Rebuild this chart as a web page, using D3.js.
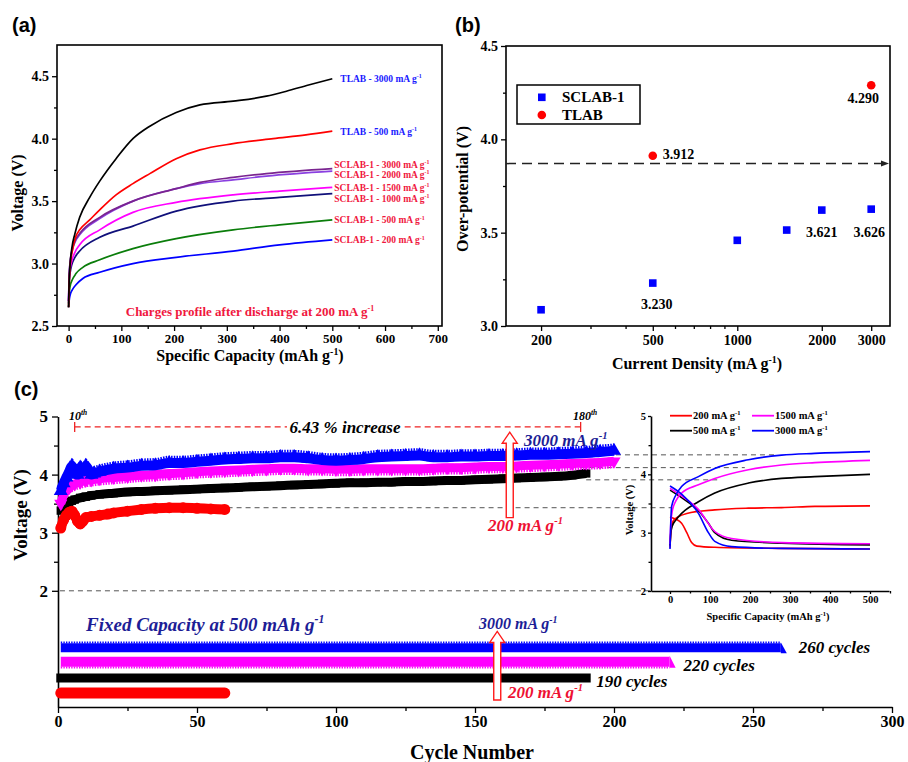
<!DOCTYPE html>
<html>
<head>
<meta charset="utf-8">
<script src="https://cdn.jsdelivr.net/npm/d3@7"></script>
<style>
  body { margin: 0; background: #fff; }
  svg { display: block; }
</style>
</head>
<body>
<svg id="fig" width="908" height="762"></svg>
<script>
// ---------------- (a) charge profiles: [capacity mAh g-1, voltage V]
const profTLAB3000 = [[0,2.65],[1,2.85],[3,3.0],[6,3.12],[12,3.24],[21,3.37],[40,3.53],[59,3.66],[90,3.84],[122,4.0],[154,4.1],[204,4.21],[249,4.27],[312,4.3],[375,4.34],[413,4.38],[455,4.43],[500,4.48]];
const profTLAB500  = [[0,2.65],[1,2.82],[3,2.98],[7,3.1],[14,3.22],[21,3.27],[40,3.35],[59,3.43],[90,3.55],[122,3.64],[154,3.72],[204,3.84],[249,3.91],[312,3.96],[388,4.0],[450,4.03],[500,4.06]];
const profS3000 = [[0,2.7],[1,2.9],[3,3.02],[6,3.1],[12,3.18],[21,3.24],[59,3.37],[122,3.5],[204,3.6],[249,3.65],[312,3.69],[375,3.72],[500,3.76]];
const profS2000 = [[0,2.7],[1,2.9],[3,3.01],[6,3.09],[12,3.17],[21,3.23],[59,3.36],[122,3.5],[204,3.6],[249,3.64],[312,3.67],[375,3.7],[500,3.74]];
const profS1500 = [[0,2.7],[1,2.86],[3,2.96],[6,3.02],[12,3.09],[21,3.15],[59,3.27],[122,3.41],[204,3.49],[312,3.55],[400,3.58],[500,3.61]];
const profS1000 = [[0,2.68],[1,2.84],[3,2.93],[6,2.99],[12,3.05],[21,3.1],[59,3.21],[122,3.3],[204,3.42],[312,3.5],[400,3.53],[500,3.56]];
const profS500  = [[0,2.65],[1,2.75],[3,2.82],[7,2.87],[14,2.92],[27,2.97],[59,3.03],[122,3.12],[204,3.2],[312,3.27],[400,3.31],[500,3.35]];
const profS200  = [[0,2.65],[1,2.7],[3,2.75],[7,2.79],[14,2.83],[27,2.88],[59,2.93],[122,3.0],[204,3.05],[312,3.1],[400,3.15],[500,3.19]];
const profData   = [profTLAB3000, profTLAB500, profS3000, profS2000, profS1500, profS1000, profS500, profS200];
const profLabels = ["TLAB - 3000 mA g", "TLAB - 500 mA g", "SCLAB-1 - 3000 mA g", "SCLAB-1 - 2000 mA g",
                    "SCLAB-1 - 1500 mA g", "SCLAB-1 - 1000 mA g", "SCLAB-1 - 500 mA g", "SCLAB-1 - 200 mA g"];
const capTicksA  = [0, 100, 200, 300, 400, 500, 600, 700];
const voltTicksA = [2.5, 3.0, 3.5, 4.0, 4.5];

// ---------------- (b) over-potential vs current density
const densSCLAB = [200, 500, 1000, 1500, 2000, 3000];
const overSCLAB = [3.087, 3.230, 3.459, 3.514, 3.621, 3.626];
const densTLAB  = [500, 3000];
const overTLAB  = [3.912, 4.290];
const refOverpotential = 3.87;
const densTicksB  = [200, 500, 1000, 2000, 3000];
const densMinorB  = [300, 400, 600, 700, 800, 900];
const overTicksB  = [3.0, 3.5, 4.0, 4.5];

// ---------------- (c) cycling at fixed capacity 500 mAh g-1 (end-of-charge voltage)
const cyc3000  = [1,2,3,4,5,6,7,8,9,10,11,12,13,15,20,25,30,35,40,45,50,55,60,65,70,75,80,85,90,95,100,105,110,115,120,125,130,135,140,145,150,155,160,165,170,175,180,185,190,195,200];
const volt3000 = [3.72,3.85,3.95,4.05,4.15,4.05,4.0,4.12,4.05,4.15,4.08,4.0,4.02,4.05,4.1,4.12,4.15,4.16,4.2,4.2,4.22,4.24,4.26,4.27,4.28,4.28,4.3,4.3,4.28,4.25,4.24,4.25,4.27,4.3,4.31,4.32,4.33,4.3,4.3,4.31,4.31,4.32,4.32,4.33,4.34,4.34,4.35,4.36,4.37,4.39,4.41];
const cyc1500  = [1,2,3,4,5,6,8,10,12,15,20,25,30,35,40,45,50,55,60,65,70,75,80,85,90,95,100,105,110,115,120,125,130,135,140,145,150,155,160,165,170,175,180,185,190,195,200];
const volt1500 = [3.5,3.65,3.72,3.78,3.82,3.84,3.87,3.9,3.91,3.93,3.95,3.97,3.99,4.0,4.02,4.03,4.05,4.06,4.07,4.08,4.09,4.1,4.11,4.11,4.1,4.1,4.09,4.09,4.1,4.1,4.1,4.1,4.1,4.11,4.12,4.12,4.13,4.14,4.14,4.15,4.16,4.17,4.18,4.19,4.2,4.21,4.23];
const cyc500   = [1,2,3,4,5,6,8,10,12,15,20,25,30,35,40,45,50,55,60,65,70,75,80,85,90,95,100,105,110,115,120,125,130,135,140,145,150,155,160,165,170,175,180,185,190];
const volt500  = [3.38,3.45,3.5,3.53,3.55,3.57,3.6,3.62,3.64,3.66,3.68,3.7,3.71,3.72,3.73,3.74,3.75,3.76,3.77,3.78,3.79,3.8,3.81,3.82,3.83,3.84,3.85,3.86,3.86,3.87,3.87,3.88,3.88,3.89,3.9,3.9,3.91,3.92,3.93,3.94,3.95,3.96,3.97,3.99,4.02];
const cyc200   = [1,2,3,4,5,6,7,8,9,10,12,15,18,20,25,30,35,40,45,50,55,60];
const volt200  = [3.08,3.22,3.3,3.35,3.37,3.3,3.2,3.15,3.2,3.26,3.28,3.3,3.32,3.34,3.37,3.4,3.42,3.43,3.43,3.42,3.41,3.4];
// cycle-life rows: total cycles and row level on the voltage axis
const lifeTotals = [260, 220, 190, 60];
const lifeLevels = [1.02, 0.78, 0.5, 0.24];
const cycleTicksC = [0, 50, 100, 150, 200, 250, 300];
const voltTicksC  = [2, 3, 4, 5];
// guide levels drawn from the cycling curves into the inset
const guideLevels   = [4.34, 4.12, 3.91, 3.43, 2.0];
const guideFromCyc  = [191, 178, 190, 61, 0.7];
const guideToCap    = [262, 187, 120, 5, -48];

// ---------------- (c) inset: charge / discharge profiles [capacity, voltage]
const insCharge200 = [[0,2.74],[2,3.0],[4,3.12],[8,3.2],[20,3.27],[42,3.33],[112,3.39],[196,3.42],[279,3.43],[362,3.45],[500,3.46]];
const insDisch200  = [[0,3.27],[15,3.23],[29,3.16],[42,3.0],[54,2.83],[67,2.77],[112,2.75],[279,2.73],[500,2.72]];
const insCharge500 = [[0,2.78],[2,2.98],[6,3.12],[15,3.22],[29,3.33],[71,3.53],[112,3.68],[196,3.85],[279,3.93],[362,3.96],[500,4.0]];
const insDisch500  = [[0,3.73],[29,3.6],[71,3.38],[96,3.16],[112,3.0],[154,2.87],[279,2.82],[500,2.79]];
const insCharge1500 = [[0,2.8],[2,3.15],[6,3.38],[15,3.55],[29,3.68],[71,3.82],[112,3.93],[196,4.08],[279,4.16],[362,4.2],[500,4.24]];
const insDisch1500  = [[0,3.76],[29,3.63],[71,3.4],[112,3.02],[154,2.9],[279,2.83],[500,2.81]];
const insCharge3000 = [[0,2.72],[2,3.2],[4,3.45],[15,3.65],[29,3.79],[71,3.96],[112,4.1],[196,4.25],[279,4.33],[362,4.36],[500,4.39]];
const insDisch3000  = [[0,3.8],[29,3.66],[71,3.33],[96,3.0],[112,2.85],[154,2.76],[279,2.73],[500,2.72]];
const insRates = ["200", "500", "1500", "3000"];
const capTicksI  = [0, 100, 200, 300, 400, 500];
const voltTicksI = [2, 3, 4, 5];

// ---------------------------------------------------------------------------
const SERIF = '"Liberation Serif","Times New Roman",serif';
const SANS  = '"Liberation Sans",Arial,sans-serif';
const svg = d3.select("#fig");

// text with optional superscript parts (prefixed by "^")
function rich(g, x, y, parts, o = {}) {
  const size = o.size || 14;
  const t = g.append("text").attr("x", x).attr("y", y)
    .attr("font-family", o.family || SERIF).attr("font-weight", o.weight || "bold")
    .attr("font-size", size).attr("fill", o.fill || "#000")
    .attr("text-anchor", o.anchor || "start");
  if (o.italic) t.attr("font-style", "italic");
  if (o.rotate) t.attr("transform", `rotate(${o.rotate},${x},${y})`);
  let raised = false;
  parts.forEach(p => {
    const sup = p.startsWith("^");
    const s = t.append("tspan").text(sup ? p.slice(1) : p);
    if (sup) { s.attr("font-size", size * 0.62).attr("dy", -size * 0.4); raised = true; }
    else if (raised) { s.attr("dy", size * 0.4); raised = false; }
  });
  return t;
}

function styleAxis(g, size, keepDomain) {
  g.attr("font-family", null).attr("font-size", null);
  g.selectAll("text").attr("font-family", SERIF).attr("font-weight", "bold")
    .attr("font-size", size).attr("fill", "#000");
  g.selectAll(".tick line").attr("stroke", "#000").attr("stroke-width", 1.3);
  if (keepDomain) g.select(".domain").attr("stroke", "#000").attr("stroke-width", 1.6);
  else g.select(".domain").remove();
  return g;
}

// ============================ panel (a) ============================
const gA = svg.append("g");
const xA = d3.scaleLinear().domain([-22, 708]).range([57, 442]);
const yA = d3.scaleLinear().domain([2.5, 4.75]).range([326, 45]);

gA.append("g").attr("transform", "translate(0,326)")
  .call(d3.axisBottom(xA).tickValues(capTicksA).tickSize(5).tickPadding(3).tickFormat(d3.format("d")))
  .call(g => styleAxis(g, 13));
gA.append("g").attr("transform", "translate(0,326)")
  .call(d3.axisBottom(xA).tickValues(capTicksA.slice(0, -1).map(d => d + 50)).tickSize(3).tickFormat(""))
  .call(g => styleAxis(g, 13));
gA.append("g").attr("transform", "translate(57,0)")
  .call(d3.axisLeft(yA).tickValues(voltTicksA).tickSize(5).tickPadding(3).tickFormat(d3.format(".1f")))
  .call(g => styleAxis(g, 14));
gA.append("g").attr("transform", "translate(57,0)")
  .call(d3.axisLeft(yA).tickValues(voltTicksA.slice(0, -1).map(d => d + 0.25)).tickSize(3).tickFormat(""))
  .call(g => styleAxis(g, 14));
gA.append("rect").attr("x", xA.range()[0]).attr("y", yA.range()[1])
  .attr("width", xA.range()[1] - xA.range()[0]).attr("height", yA.range()[0] - yA.range()[1])
  .attr("fill", "none").attr("stroke", "#000").attr("stroke-width", 1.6);

const profColors = ["#000000", "#ff0000", "#7a2490", "#8a3fe0", "#ff00ff", "#10107a", "#0a7d0a", "#0000ff"];
const lineA = d3.line().x(d => xA(d[0])).y(d => yA(d[1])).curve(d3.curveMonotoneX);
profData.slice().reverse().forEach((p, k) => {
  const i = profData.length - 1 - k;
  gA.append("path").attr("d", lineA(p)).attr("fill", "none")
    .attr("stroke", profColors[i]).attr("stroke-width", 1.7);
});
const labelShift = [0, 0, -4, 3, 0, 5, 0, 0];
profData.forEach((p, i) => {
  const end = p[p.length - 1];
  const tlab = i < 2;
  rich(gA, xA(end[0]) + (tlab ? 8 : 2), yA(end[1]) + labelShift[i] + 3.5, [profLabels[i], "^-1"],
    { size: 9.5, fill: tlab ? "#1a1aff" : "#f0173e" });
});
rich(gA, 250, 316, ["Charges profile after discharge at 200 mA g", "^-1"],
  { size: 13, anchor: "middle", fill: "#f0173e" });
rich(gA, 23, 193, ["Voltage (V)"], { size: 16, anchor: "middle", rotate: -90 });
rich(gA, 250, 361, ["Specific Capacity (mAh g", "^-1", ")"], { size: 16, anchor: "middle" });
rich(gA, 12, 32, ["(a)"], { size: 20, family: SANS });

// ============================ panel (b) ============================
const gB = svg.append("g");
const xB = d3.scaleLog().domain([150, 3500]).range([506, 890]);
const yB = d3.scaleLinear().domain([3.0, 4.5]).range([326, 46]);

gB.append("g").attr("transform", "translate(0,326)")
  .call(d3.axisBottom(xB).tickValues(densTicksB).tickSize(5).tickPadding(4).tickFormat(d3.format("d")))
  .call(g => styleAxis(g, 14));
gB.append("g").attr("transform", "translate(0,326)")
  .call(d3.axisBottom(xB).tickValues(densMinorB).tickSize(3).tickFormat(""))
  .call(g => styleAxis(g, 14));
gB.append("g").attr("transform", "translate(506,0)")
  .call(d3.axisLeft(yB).tickValues(overTicksB).tickSize(5).tickPadding(3).tickFormat(d3.format(".1f")))
  .call(g => styleAxis(g, 14));
gB.append("g").attr("transform", "translate(506,0)")
  .call(d3.axisLeft(yB).tickValues(overTicksB.slice(0, -1).map(d => d + 0.25)).tickSize(3).tickFormat(""))
  .call(g => styleAxis(g, 14));
gB.append("rect").attr("x", xB.range()[0]).attr("y", yB.range()[1])
  .attr("width", xB.range()[1] - xB.range()[0]).attr("height", yB.range()[0] - yB.range()[1])
  .attr("fill", "none").attr("stroke", "#000").attr("stroke-width", 1.6);

// reference level with arrow
const yRef = yB(refOverpotential);
gB.append("line").attr("x1", xB.range()[0]).attr("x2", xB.range()[1] - 7)
  .attr("y1", yRef).attr("y2", yRef).attr("stroke", "#222").attr("stroke-width", 1.5)
  .attr("stroke-dasharray", "10,6");
gB.append("path").attr("d", `M${xB.range()[1] - 9},${yRef - 3}L${xB.range()[1] - 1},${yRef}L${xB.range()[1] - 9},${yRef + 3}Z`)
  .attr("fill", "#222");

gB.selectAll("rect.sq").data(densSCLAB).join("rect").attr("class", "sq")
  .attr("x", d => xB(d) - 3.8).attr("y", (d, i) => yB(overSCLAB[i]) - 3.8)
  .attr("width", 7.6).attr("height", 7.6).attr("fill", "#0000ff");
gB.selectAll("circle.tl").data(densTLAB).join("circle").attr("class", "tl")
  .attr("cx", d => xB(d)).attr("cy", (d, i) => yB(overTLAB[i])).attr("r", 4.3).attr("fill", "#ff0000");

const fmt3 = d3.format(".3f");
// value labels
rich(gB, xB(500) + 4, yB(overSCLAB[1]) + 26, [fmt3(overSCLAB[1])], { size: 14, anchor: "middle" });
rich(gB, xB(500) + 10, yB(overTLAB[0]) + 3, [fmt3(overTLAB[0])], { size: 14 });
rich(gB, xB(3000) - 8, yB(overTLAB[1]) + 18, [fmt3(overTLAB[1])], { size: 14, anchor: "middle" });
rich(gB, xB(2000), yB(overSCLAB[4]) + 27, [fmt3(overSCLAB[4])], { size: 14, anchor: "middle" });
rich(gB, xB(3000) - 2, yB(overSCLAB[5]) + 28, [fmt3(overSCLAB[5])], { size: 14, anchor: "middle" });

// legend
gB.append("rect").attr("x", 517).attr("y", 85).attr("width", 123).attr("height", 39)
  .attr("fill", "#fff").attr("stroke", "#000").attr("stroke-width", 1.5);
gB.append("rect").attr("x", 538).attr("y", 93.5).attr("width", 7.6).attr("height", 7.6).attr("fill", "#0000ff");
gB.append("circle").attr("cx", 541.8).attr("cy", 115).attr("r", 4.3).attr("fill", "#ff0000");
rich(gB, 562, 102, ["SCLAB-1"], { size: 15 });
rich(gB, 562, 120, ["TLAB"], { size: 15 });

rich(gB, 468, 189, ["Over-potential (V)"], { size: 16, anchor: "middle", rotate: -90 });
rich(gB, 697, 369, ["Current Density (mA g", "^-1", ")"], { size: 16, anchor: "middle" });
rich(gB, 455, 32, ["(b)"], { size: 20, family: SANS });

// ============================ panel (c) ============================
const gC = svg.append("g");
const xC = d3.scaleLinear().domain([0, 300]).range([58, 892]);
const yC = d3.scaleLinear().domain([0, 5]).range([707, 416.5]);
const xI = d3.scaleLinear().domain([-47.5, 547.5]).range([651, 889]);
const yI = d3.scaleLinear().domain([2, 5]).range([591, 416]);

// dashed guide levels, running from the cycling data into the inset
guideLevels.forEach((v, i) => {
  gC.append("line").attr("x1", xC(guideFromCyc[i])).attr("x2", xI(guideToCap[i]))
    .attr("y1", yC(v)).attr("y2", yC(v))
    .attr("stroke", "#555").attr("stroke-width", 1).attr("stroke-dasharray", "5,4");
});

gC.append("g").attr("transform", "translate(0,707)")
  .call(d3.axisBottom(xC).tickValues(cycleTicksC).tickSize(6).tickSizeOuter(0).tickPadding(3).tickFormat(d3.format("d")))
  .call(g => styleAxis(g, 16, true));
gC.append("g").attr("transform", "translate(0,707)")
  .call(d3.axisBottom(xC).tickValues(cycleTicksC.slice(0, -1).map(d => d + 25)).tickSize(4).tickFormat(""))
  .call(g => styleAxis(g, 16));
gC.append("g").attr("transform", "translate(58,0)")
  .call(d3.axisLeft(yC).tickValues(voltTicksC).tickSize(6).tickSizeOuter(0).tickPadding(4).tickFormat(d3.format("d")))
  .call(g => styleAxis(g, 17, true));
gC.append("g").attr("transform", "translate(58,0)")
  .call(d3.axisLeft(yC).tickValues(voltTicksC.slice(0, -1).map(d => d + 0.5)).tickSize(4).tickFormat(""))
  .call(g => styleAxis(g, 17));

// cycling bands
const lineC = d3.line().x(d => xC(d[0])).y(d => yC(d[1])).curve(d3.curveMonotoneX);
const bands = [
  { cyc: cyc500,  v: volt500,  color: "#000000", w: 9,  sym: d3.symbolSquare,   size: 70, rot: 0,   fuzz: 0 },
  { cyc: cyc1500, v: volt1500, color: "#ff00ff", w: 9,  sym: d3.symbolTriangle, size: 75, rot: 180, fuzz: 1 },
  { cyc: cyc3000, v: volt3000, color: "#0000ff", w: 10, sym: d3.symbolTriangle, size: 85, rot: 0,   fuzz: -1 },
  { cyc: cyc200,  v: volt200,  color: "#ff0000", w: 10, sym: d3.symbolCircle,   size: 95, rot: 0,   fuzz: 0 }
];
bands.forEach(b => {
  const pts = b.cyc.map((c, i) => [c, b.v[i]]);
  gC.append("path").attr("d", lineC(pts)).attr("fill", "none").attr("stroke", b.color)
    .attr("stroke-width", b.w).attr("stroke-linejoin", "round");
  if (b.fuzz) {
    gC.append("path").attr("d", lineC(pts)).attr("fill", "none").attr("stroke", b.color)
      .attr("stroke-width", 2.6).attr("stroke-dasharray", "1.5,1.2")
      .attr("transform", `translate(0,${b.fuzz * (b.w / 2 + 1)})`);
  }
  gC.selectAll(null).data(pts).join("path")
    .attr("d", d3.symbol().type(b.sym).size(b.size))
    .attr("transform", d => `translate(${xC(d[0])},${yC(d[1])}) rotate(${b.rot})`)
    .attr("fill", b.color);
});

// cycle-life rows
const lifeColors = ["#0000ff", "#ff00ff", "#000000", "#ff0000"];
const lifeWidth = [9, 10, 9, 11];
lifeTotals.forEach((n, i) => {
  const y = yC(lifeLevels[i]);
  const cap = i === 3 ? "round" : (i === 2 ? "square" : "butt");
  gC.append("line").attr("x1", xC(1)).attr("x2", xC(n)).attr("y1", y).attr("y2", y)
    .attr("stroke", lifeColors[i]).attr("stroke-width", lifeWidth[i]).attr("stroke-linecap", cap);
  if (i < 2) {
    const dir = i === 0 ? -1 : 1;
    const off = dir * (lifeWidth[i] / 2 + 0.8);
    gC.append("line").attr("x1", xC(1)).attr("x2", xC(n)).attr("y1", y + off).attr("y2", y + off)
      .attr("stroke", lifeColors[i]).attr("stroke-width", 2).attr("stroke-dasharray", "1.4,1.2");
    // slanted end of the triangle-marker row
    const h = lifeWidth[i] / 2 + 1;
    gC.append("path").attr("d", `M${xC(n)},${y - h}L${xC(n) + 6},${y + h}L${xC(n)},${y + h}Z`)
      .attr("fill", lifeColors[i]);
  }
});
["260", "220", "190"].forEach((s, i) => {
  const endX = xC(lifeTotals[i]);
  rich(gC, endX + (i === 0 ? 18 : i === 1 ? 14 : 10), yC(lifeLevels[i]) + (i === 0 ? 5 : 9), [s + " cycles"],
    { size: 17, italic: true });
});

// annotations: 10th to 180th bracket
const yBr = yC(4.82);
gC.append("line").attr("x1", xC(6)).attr("x2", xC(188)).attr("y1", yBr).attr("y2", yBr)
  .attr("stroke", "#ee2222").attr("stroke-width", 1.3).attr("stroke-dasharray", "6,4");
[6, 188].forEach(c => gC.append("line").attr("x1", xC(c)).attr("x2", xC(c)).attr("y1", yBr - 5).attr("y2", yBr + 5)
  .attr("stroke", "#ee2222").attr("stroke-width", 1.3));
gC.append("rect").attr("x", 287).attr("y", yBr - 9).attr("width", 116).attr("height", 16).attr("fill", "#fff");
rich(gC, 345, yBr + 6, ["6.43 % increase"], { size: 17, italic: true, anchor: "middle" });
rich(gC, 69, 420, ["10", "^th"], { size: 12, italic: true });
rich(gC, 573, 420, ["180", "^th"], { size: 12, italic: true });

// hollow arrows from 200 to 3000 mA g-1
function hollowArrow(cx, yTail, yTip) {
  const sw = 3.5, hw = 7.5, hh = 11;
  const d = `M${cx - sw},${yTail}L${cx - sw},${yTip + hh}L${cx - hw},${yTip + hh}L${cx},${yTip}` +
            `L${cx + hw},${yTip + hh}L${cx + sw},${yTip + hh}L${cx + sw},${yTail}Z`;
  gC.append("path").attr("d", d).attr("fill", "#fff").attr("stroke", "#ff1a1a").attr("stroke-width", 1.4);
}
hollowArrow(xC(162.5), yC(3.26), yC(4.73));
hollowArrow(xC(158), yC(0.12), yC(1.3));
rich(gC, 524, 446, ["3000 mA g", "^-1"], { size: 17, italic: true, fill: "#1d1d96" });
rich(gC, 488, 531, ["200 mA g", "^-1"], { size: 17, italic: true, fill: "#ee1133" });
rich(gC, 479, 629, ["3000 mA g", "^-1"], { size: 16, italic: true, fill: "#1d1d96" });
rich(gC, 508, 698, ["200 mA g", "^-1"], { size: 17, italic: true, fill: "#ee1133" });
rich(gC, 86, 631, ["Fixed Capacity at 500 mAh g", "^-1"], { size: 19, italic: true, fill: "#1d1d96" });

rich(gC, 27, 515, ["Voltage (V)"], { size: 19, anchor: "middle", rotate: -90 });
rich(gC, 472, 759, ["Cycle Number"], { size: 20, anchor: "middle" });
rich(gC, 14, 396, ["(c)"], { size: 20, family: SANS });

// ============================ inset ============================
const gI = svg.append("g");
gI.append("g").attr("transform", "translate(0,591)")
  .call(d3.axisBottom(xI).tickValues(capTicksI).tickSize(3).tickSizeOuter(0).tickPadding(2).tickFormat(d3.format("d")))
  .call(g => styleAxis(g, 10.5, true));
gI.append("g").attr("transform", "translate(0,591)")
  .call(d3.axisBottom(xI).tickValues(capTicksI.map(d => d + 50)).tickSize(2.5).tickFormat(""))
  .call(g => styleAxis(g, 10.5));
gI.append("g").attr("transform", "translate(651,0)")
  .call(d3.axisLeft(yI).tickValues(voltTicksI).tickSize(3).tickSizeOuter(0).tickPadding(2).tickFormat(d3.format("d")))
  .call(g => styleAxis(g, 10.5, true));
gI.append("g").attr("transform", "translate(651,0)")
  .call(d3.axisLeft(yI).tickValues(voltTicksI.slice(0, -1).map(d => d + 0.5)).tickSize(2.5).tickFormat(""))
  .call(g => styleAxis(g, 10.5));

const lineI = d3.line().x(d => xI(d[0])).y(d => yI(d[1])).curve(d3.curveMonotoneX);
const insColors = ["#ff0000", "#000000", "#ff00ff", "#0000ff"];
const insCurves = [[insCharge200, insDisch200], [insCharge500, insDisch500],
                   [insCharge1500, insDisch1500], [insCharge3000, insDisch3000]];
insCurves.forEach((pair, i) => pair.forEach(c =>
  gI.append("path").attr("d", lineI(c)).attr("fill", "none")
    .attr("stroke", insColors[i]).attr("stroke-width", 1.6)));

// inset legend (2 x 2)
const legPos = [[670, 415.7], [670, 430.7], [752, 415.7], [752, 430.7]];
insRates.forEach((r, i) => {
  const [lx, ly] = legPos[i];
  gI.append("line").attr("x1", lx).attr("x2", lx + 22).attr("y1", ly).attr("y2", ly)
    .attr("stroke", insColors[i]).attr("stroke-width", 1.8);
  rich(gI, lx + 23, ly + 3.5, [r + " mA g", "^-1"], { size: 10.5 });
});
rich(gI, 633, 510, ["Voltage (V)"], { size: 10.5, anchor: "middle", rotate: -90 });
rich(gI, 768, 620, ["Specific Capacity (mAh g", "^-1", ")"], { size: 10.5, anchor: "middle" });
</script>
</body>
</html>
